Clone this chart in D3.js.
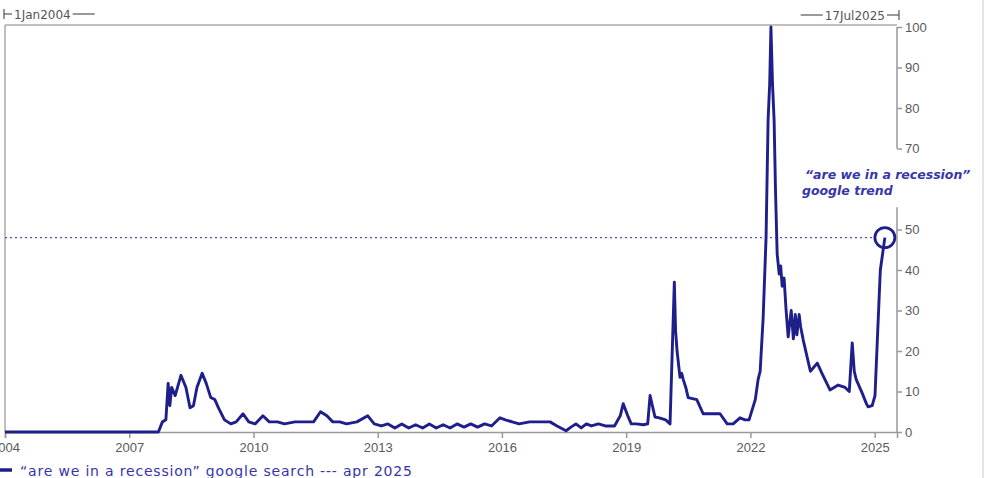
<!DOCTYPE html>
<html>
<head>
<meta charset="utf-8">
<script src="https://cdn.jsdelivr.net/npm/d3@7"></script>
<style>
  body { margin: 0; background: #fff; }
  svg { display: block; font-family: "DejaVu Sans", Verdana, sans-serif; }
  .tick text { fill: #5a5a5a; font-size: 13px; }
  .tick line { stroke: #999; stroke-width: 1.5; }
</style>
</head>
<body>
<div id="chart_area"></div>
<script>
var width = 985
var height = 478

// Data
var dates = [
  "2004-01-01", "2007-09-15", "2007-10-20", "2007-11-20", "2007-12-10", "2007-12-25",
  "2008-01-10", "2008-02-10", "2008-04-01", "2008-05-15", "2008-06-20", "2008-07-20",
  "2008-08-20", "2008-10-05", "2008-11-10", "2008-12-20", "2009-01-25", "2009-02-25",
  "2009-04-20", "2009-06-15", "2009-08-01", "2009-10-01", "2009-11-20", "2010-01-15",
  "2010-03-25", "2010-05-20", "2010-08-01", "2010-10-01", "2011-01-01", "2011-04-01",
  "2011-06-15", "2011-08-15", "2011-10-10", "2011-12-01", "2012-02-01", "2012-04-01",
  "2012-07-01", "2012-10-05", "2012-12-01", "2013-02-01", "2013-04-01", "2013-06-01",
  "2013-08-01", "2013-10-01", "2013-12-01", "2014-02-01", "2014-04-01", "2014-06-01",
  "2014-08-01", "2014-10-01", "2014-12-01", "2015-02-01", "2015-04-01", "2015-06-01",
  "2015-08-01", "2015-10-01", "2015-12-15", "2016-02-01", "2016-04-01", "2016-06-01",
  "2016-09-01", "2016-12-01", "2017-03-01", "2017-05-01", "2017-07-20", "2017-09-01",
  "2017-10-15", "2017-12-01", "2018-01-15", "2018-03-01", "2018-05-01", "2018-07-01",
  "2018-09-20", "2018-11-10", "2018-12-06", "2019-01-15", "2019-02-15", "2019-04-01",
  "2019-06-01", "2019-07-10", "2019-07-31", "2019-09-12", "2019-10-20", "2019-12-15",
  "2020-01-23", "2020-03-01", "2020-03-12", "2020-03-25", "2020-04-20", "2020-05-05",
  "2020-05-18", "2020-06-10", "2020-07-01", "2020-09-15", "2020-11-10", "2021-01-15",
  "2021-04-08", "2021-06-10", "2021-08-02", "2021-10-01", "2021-11-15", "2021-12-20",
  "2022-02-13", "2022-03-10", "2022-03-28", "2022-04-23", "2022-05-19", "2022-06-06",
  "2022-06-20", "2022-07-01", "2022-07-15", "2022-07-29", "2022-08-10", "2022-08-25",
  "2022-09-12", "2022-09-25", "2022-10-08", "2022-10-25", "2022-11-12", "2022-11-30",
  "2022-12-27", "2023-01-15", "2023-02-01", "2023-02-15", "2023-03-07", "2023-03-20",
  "2023-04-12", "2023-06-14", "2023-08-14", "2023-09-24", "2023-12-04", "2024-02-14",
  "2024-04-15", "2024-05-22", "2024-06-17", "2024-07-05", "2024-07-22", "2024-09-13",
  "2024-10-20", "2024-11-04", "2024-12-10", "2025-01-04", "2025-01-25", "2025-02-20",
  "2025-04-01"
]
var values = [
  0, 0, 2.5, 3, 12, 6.5,
  11, 9, 14, 11, 6, 6.5,
  11, 14.5, 12, 8.5, 8, 6,
  3, 2, 2.5, 4.5, 2.5, 2,
  4, 2.5, 2.5, 2, 2.5, 2.5,
  2.5, 5, 4, 2.5, 2.5, 2,
  2.5, 4, 2, 1.5, 2, 1,
  2, 1, 1.8, 1, 2, 1,
  1.8, 1, 2, 1.2, 2, 1.2,
  2, 1.5, 3.5, 3, 2.5, 2,
  2.5, 2.5, 2.5, 1.5, 0.3, 1.2,
  2, 1, 2, 1.5, 2, 1.5,
  1.5, 4, 7, 4, 2, 2,
  1.8, 2, 9, 3.7, 3.5, 3,
  2, 37, 25, 20, 13.5, 14.5,
  13, 11, 8.5, 8, 4.5, 4.5,
  4.5, 2, 2, 3.5, 3, 3,
  8, 13, 15, 28, 48, 77,
  86, 100, 86, 77, 60, 44,
  39, 41, 36, 38, 30, 23.5,
  30, 23, 29, 24, 29, 26,
  22.7, 15, 17, 14.5, 10.4, 11.6,
  11, 10, 22, 15, 13, 9.6,
  7, 6.2, 6.5, 9, 23, 40,
  48
]
var yTicks = [0, 10, 20, 30, 40, 50, 70, 80, 90, 100]
var xTickYears = [2004, 2007, 2010, 2013, 2016, 2019, 2022, 2025]
var startLabel = "1Jan2004"
var endLabel = "17Jul2025"
var markerValue = 48
var legendText = "\u201Care we in a recession\u201D google search ---  apr 2025"

var lineColor = "#1f1f8c"
var textBlue = "#3636a8"

var parse = d3.timeParse("%Y-%m-%d")
var data = dates.map((d, i) => ({date: parse(d), value: values[i]}))

var plotLeft = 5, plotRight = 897, plotTop = 27, plotBottom = 432

var x = d3.scaleTime()
  .domain([new Date(2004, 0, 1), new Date(2025, 6, 17)])
  .range([plotLeft, plotRight])

var y = d3.scaleLinear()
  .domain([0, 100])
  .range([plotBottom, plotTop])

var svg = d3.select("#chart_area")
  .append("svg")
  .attr("width", width)
  .attr("height", height)

// frame
svg.append("line")
  .attr("x1", plotLeft).attr("x2", plotRight).attr("y1", 25).attr("y2", 25)
  .attr("stroke", "#aaa").attr("stroke-width", 1.5)
svg.append("line")
  .attr("x1", plotLeft).attr("x2", plotLeft).attr("y1", 25).attr("y2", plotBottom)
  .attr("stroke", "#aaa").attr("stroke-width", 1.5)
svg.append("line")
  .attr("x1", 983).attr("x2", 983).attr("y1", 0).attr("y2", height)
  .attr("stroke", "#ddd").attr("stroke-width", 1.5)

// x axis
var xAxis = svg.append("g")
  .attr("transform", "translate(0," + plotBottom + ")")
  .call(d3.axisBottom(x)
    .tickValues(xTickYears.map(yr => new Date(yr, 0, 1)))
    .tickFormat(d3.timeFormat("%Y"))
    .tickSize(6)
    .tickPadding(5))
xAxis.select(".domain").attr("stroke", "#999").attr("stroke-width", 1.5)

// y axis on the right, domain line broken around the annotation
var yAxis = svg.append("g")
  .attr("transform", "translate(" + plotRight + ",0)")
  .call(d3.axisRight(y)
    .tickValues(yTicks)
    .tickSize(5)
    .tickPadding(3))
yAxis.select(".domain").remove()
yAxis.append("line")
  .attr("x1", 0).attr("x2", 0).attr("y1", y(100)).attr("y2", y(70))
  .attr("stroke", "#999").attr("stroke-width", 1.5)
yAxis.append("line")
  .attr("x1", 0).attr("x2", 0).attr("y1", y(55.5)).attr("y2", y(0))
  .attr("stroke", "#999").attr("stroke-width", 1.5)

// top range labels
var startText = svg.append("text")
  .attr("x", 14).attr("y", 19)
  .attr("fill", "#555").style("font-size", "12px")
  .text(startLabel)
var endText = svg.append("text")
  .attr("x", 885).attr("y", 20)
  .attr("text-anchor", "end")
  .attr("fill", "#555").style("font-size", "12px")
  .text(endLabel)
var sw = startText.node().getComputedTextLength()
var ew = endText.node().getComputedTextLength()
var topG = svg.append("g").attr("stroke", "#555").attr("stroke-width", 1.2)
topG.append("line").attr("x1", 4).attr("x2", 4).attr("y1", 9).attr("y2", 19)
topG.append("line").attr("x1", 4).attr("x2", 12).attr("y1", 14).attr("y2", 14)
topG.append("line").attr("x1", 14 + sw + 2).attr("x2", 14 + sw + 24).attr("y1", 14).attr("y2", 14)
topG.append("line").attr("x1", 885 - ew - 24).attr("x2", 885 - ew - 2).attr("y1", 15).attr("y2", 15)
topG.append("line").attr("x1", 887).attr("x2", 899).attr("y1", 15).attr("y2", 15)
topG.append("line").attr("x1", 899).attr("x2", 899).attr("y1", 10).attr("y2", 20)

// dotted reference line
var last = data[data.length - 1]
svg.append("line")
  .attr("x1", plotLeft).attr("x2", x(last.date) - 10)
  .attr("y1", y(markerValue)).attr("y2", y(markerValue))
  .attr("stroke", "#5555c0").attr("stroke-width", 1.2)
  .attr("stroke-dasharray", "2,3")

// series line
var line = d3.line()
  .x(d => x(d.date))
  .y(d => y(d.value))

svg.append("path")
  .datum(data)
  .attr("d", line)
  .attr("fill", "none")
  .attr("stroke", lineColor)
  .attr("stroke-width", 2.9)
  .attr("stroke-linejoin", "round")

svg.append("circle")
  .attr("cx", x(last.date))
  .attr("cy", y(markerValue))
  .attr("r", 10)
  .attr("fill", "none")
  .attr("stroke", lineColor)
  .attr("stroke-width", 2.8)

// annotation
var ann = svg.append("text")
  .attr("fill", textBlue)
  .style("font-size", "12.5px")
  .style("font-style", "italic")
  .style("font-weight", "700")
ann.append("tspan").attr("x", 805).attr("y", 179).text("\u201Care we in a recession\u201D")
ann.append("tspan").attr("x", 802).attr("y", 195).text("google trend")

// legend
svg.append("line")
  .attr("x1", 0).attr("x2", 12).attr("y1", 470).attr("y2", 470)
  .attr("stroke", lineColor).attr("stroke-width", 3.5)
svg.append("text")
  .attr("x", 20).attr("y", 476)
  .attr("fill", textBlue)
  .style("font-size", "14px")
  .attr("textLength", 392)
  .attr("lengthAdjust", "spacing")
  .text(legendText)
</script>
</body>
</html>
